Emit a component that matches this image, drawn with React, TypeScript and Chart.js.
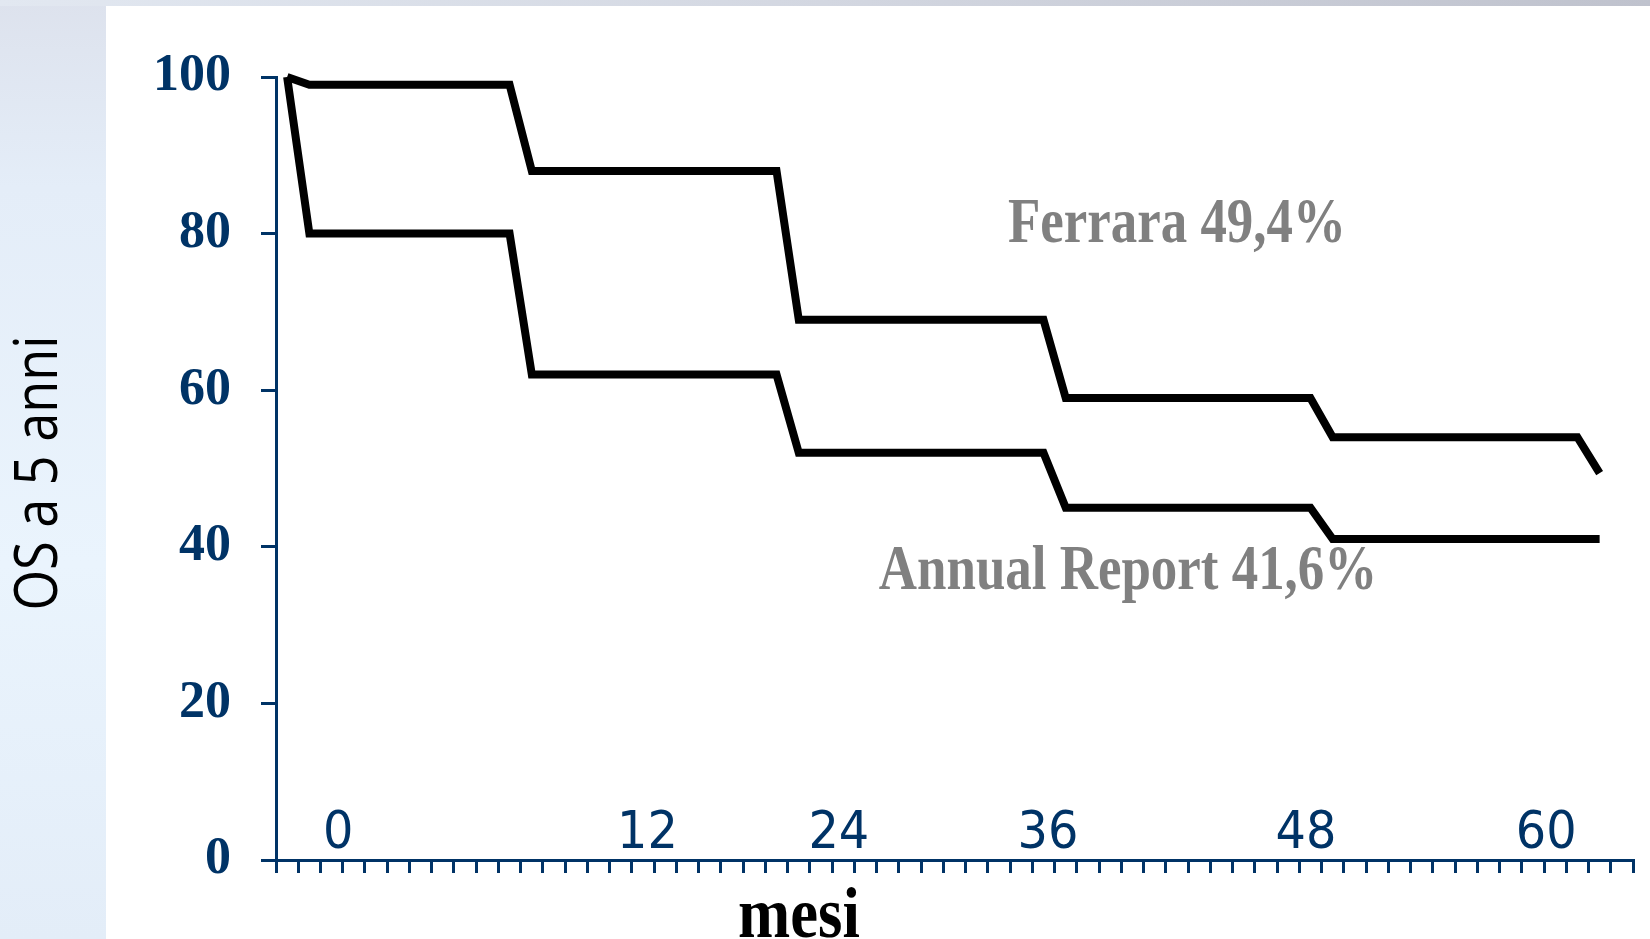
import React, { useEffect, useRef } from 'react';
import { Chart, registerables } from 'chart.js';

Chart.register(...registerables);

// ---- Data ----
const stepMonths = [0, 1, 10, 11, 22, 23, 34, 35, 46, 47, 58, 59];
const ferraraOS = [100, 99, 99, 88, 88, 69, 69, 59, 59, 54, 54, 49.4];
const annualReportOS = [100, 80, 80, 62, 62, 52, 52, 45, 45, 41, 41, 41];
const yTickValues = [0, 20, 40, 60, 80, 100];
const monthLabels = ['0', '12', '24', '36', '48', '60'];
const monthLabelAnchors = [2.3, 16.2, 24.8, 34.2, 45.8, 56.6];
const seriesNotes = ['Ferrara 49,4%', 'Annual Report 41,6%'];
const yAxisTitle = 'OS a 5 anni';
const xAxisTitle = 'mesi';

// ---- Styles ----
const NAVY = '#003366';
const NOTE_GRAY = '#808080';

function drawText(
  ctx: CanvasRenderingContext2D,
  text: string,
  x: number,
  y: number,
  font: string,
  color: string,
  sx: number,
  rotate = 0,
  align: CanvasTextAlign = 'center',
  baseline: CanvasTextBaseline = 'alphabetic'
) {
  ctx.save();
  ctx.translate(x, y);
  if (rotate) ctx.rotate(rotate);
  ctx.scale(sx, 1);
  ctx.font = font;
  ctx.fillStyle = color;
  ctx.textAlign = align;
  ctx.textBaseline = baseline;
  ctx.fillText(text, 0, 0);
  ctx.restore();
}

const backgroundPlugin = {
  id: 'slideBackground',
  beforeDraw(chart: any) {
    const { ctx, width, height } = chart;
    ctx.save();
    const g = ctx.createLinearGradient(0, 0, 0, height);
    g.addColorStop(0, '#dde2ed');
    g.addColorStop(0.2, '#e4edf8');
    g.addColorStop(0.6, '#eaf4fd');
    g.addColorStop(1, '#e3edf8');
    ctx.fillStyle = g;
    ctx.fillRect(0, 0, width, height);
    const t = ctx.createLinearGradient(0, 0, width, 0);
    t.addColorStop(0, '#e2e8f1');
    t.addColorStop(0.5, '#d3d7e1');
    t.addColorStop(1, '#bfc2cd');
    ctx.fillStyle = t;
    ctx.fillRect(0, 0, width, 6);
    ctx.fillStyle = '#ffffff';
    ctx.fillRect(106, 6, width - 106, height - 6);
    ctx.restore();
  },
};

const textPlugin = {
  id: 'slideTexts',
  afterDraw(chart: any) {
    const { ctx } = chart;
    const xs = chart.scales.x;
    const ys = chart.scales.y;
    const axisY = ys.getPixelForValue(0);
    monthLabels.forEach((lbl, i) => {
      drawText(ctx, lbl, xs.getPixelForValue(monthLabelAnchors[i]), axisY - 12,
        '52px "DejaVu Sans"', NAVY, 0.92);
    });
    drawText(ctx, seriesNotes[0], xs.getPixelForValue(40.0), ys.getPixelForValue(78.9),
      'bold 63px "Liberation Serif"', NOTE_GRAY, 0.84);
    drawText(ctx, seriesNotes[1], xs.getPixelForValue(37.8), ys.getPixelForValue(34.6),
      'bold 63px "Liberation Serif"', NOTE_GRAY, 0.84);
    drawText(ctx, xAxisTitle, 799, 937, 'bold 72px "Liberation Serif"', '#000000', 0.87);
    drawText(ctx, yAxisTitle, 40, 473, '60px "Open Sans"', '#000000', 0.87, -Math.PI / 2, 'center', 'middle');
  },
};

export default function App() {
  const ref = useRef<HTMLCanvasElement>(null);
  useEffect(() => {
    document.body.style.margin = '0';
    const mk = (vals: number[]) => stepMonths.map((m, i) => ({ x: m, y: vals[i] }));
    const lineStyle = {
      borderColor: '#000000',
      borderWidth: 8,
      pointRadius: 0,
      tension: 0,
      clip: false as any,
      borderJoinStyle: 'miter' as const,
      borderCapStyle: 'butt' as const,
      fill: false,
    };
    const chart = new Chart(ref.current!, {
      type: 'line',
      data: {
        datasets: [
          { label: 'Ferrara', data: mk(ferraraOS), ...lineStyle },
          { label: 'Annual Report', data: mk(annualReportOS), ...lineStyle },
        ],
      },
      options: {
        animation: false,
        responsive: false,
        events: [],
        layout: { padding: { left: 0, top: 77, right: 17, bottom: 0 } },
        plugins: { legend: { display: false }, tooltip: { enabled: false }, title: { display: false } },
        scales: {
          x: {
            type: 'linear',
            min: -0.5,
            max: 60.5,
            afterBuildTicks: (s: any) => {
              const t: { value: number }[] = [];
              for (let v = -0.5; v <= 60.5; v += 1) t.push({ value: v });
              s.ticks = t;
            },
            afterFit: (s: any) => { s.height = 79; },
            ticks: { display: false },
            grid: { display: true, drawOnChartArea: false, drawTicks: true, tickLength: 13, color: NAVY, lineWidth: 3 },
            border: { display: true, color: NAVY, width: 3 },
          },
          y: {
            type: 'linear',
            min: 0,
            max: 100,
            afterBuildTicks: (s: any) => { s.ticks = yTickValues.map((v) => ({ value: v })); },
            afterFit: (s: any) => { s.width = 276; },
            ticks: {
              color: NAVY,
              padding: 30,
              font: { family: '"Liberation Serif"', size: 52, weight: 'bold' },
            },
            grid: { display: true, drawOnChartArea: false, drawTicks: true, tickLength: 15, color: NAVY, lineWidth: 3 },
            border: { display: true, color: NAVY, width: 3 },
          },
        },
      },
      plugins: [backgroundPlugin, textPlugin],
    });
    return () => chart.destroy();
  }, []);
  return (
    <div style={{ position: 'absolute', left: 0, top: 0, width: 1650, height: 939 }}>
      <canvas ref={ref} width={1650} height={939} style={{ display: 'block', width: 1650, height: 939 }} />
    </div>
  );
}
